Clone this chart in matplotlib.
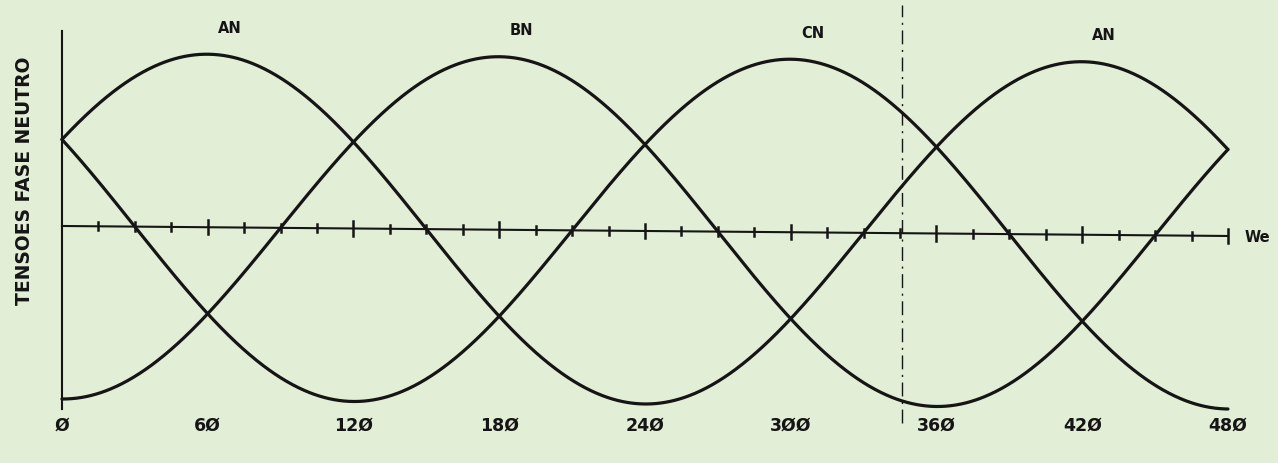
import numpy as np
import matplotlib
matplotlib.use("Agg")
import matplotlib.pyplot as plt
from matplotlib.transforms import Affine2D

# phase-to-neutral voltages, peak positions in degrees (wt)
phase_names = ["AN", "BN", "CN", "AN"]
label_angles = [60, 180, 300, 420]
phase_peaks = [60, 180, 300]
amplitude = 1.0

tick_values = [0, 60, 120, 180, 240, 300, 360, 420, 480]
tick_labels = ["Ø", "6Ø", "12Ø", "18Ø", "24Ø", "3ØØ", "36Ø", "42Ø", "48Ø"]
minor_step = 15
marker_angle = 346

BG = "#e3eed6"
INK = "#151515"

fig = plt.figure(figsize=(12.78, 4.64), dpi=100, facecolor=BG)
ax = fig.add_axes([0, 0, 1, 1])
ax.set_facecolor(BG)
ax.set_xlim(-25.5, 500.6)
ax.set_ylim(-1.370, 1.312)
ax.axis("off")

# the plotter sheet sits slightly skewed: right side ~10 px lower
k = 10 / 1166
tilt = Affine2D(np.array([[1, 0, 0], [-k, 1, k * 62], [0, 0, 1]]))
tr = ax.transData + tilt

wt = np.linspace(0, 480, 1200)
for peak in phase_peaks:
    v = amplitude * np.cos(np.radians(wt - peak))
    ax.plot(wt, v, color=INK, lw=2.3, transform=tr, solid_capstyle="round")

# horizontal axis with minor and major ticks
ax.plot([0, 480], [0, 0], color=INK, lw=1.5, transform=tr)
for t in np.arange(minor_step, 481, minor_step):
    h = 0.042 if t % 60 == 0 else 0.024
    ax.plot([t, t], [-h, h], color=INK, lw=1.8, transform=tr)

# vertical axis
ax.plot([0, 0], [-1.06, 1.127], color=INK, lw=1.5, transform=tr)

# dash-dot marker line
ax.plot([marker_angle, marker_angle], [-1.10, 1.32], color=INK, lw=1.0,
        linestyle=(0, (10, 4, 1.5, 4)), transform=tr)

for name, ang in zip(phase_names, label_angles):
    ax.text(ang + 9, 1.156 - k * ang * 2.429 / 173, name, ha="center", va="center",
            fontsize=10.5, fontweight="bold", color=INK)

for val, lab in zip(tick_values, tick_labels):
    ax.text(val, -1.15, lab, ha="center", va="center",
            fontsize=12.5, fontweight="bold", color=INK)

ax.text(-15.5, 0.27, "TENSOES FASE NEUTRO", rotation=90, ha="center", va="center",
        fontsize=13.5, fontweight="bold", color=INK)
ax.text(492, -0.06, "We", ha="center", va="center",
        fontsize=10.5, fontweight="bold", color=INK)

fig.savefig("out.png", dpi=100, facecolor=BG)
